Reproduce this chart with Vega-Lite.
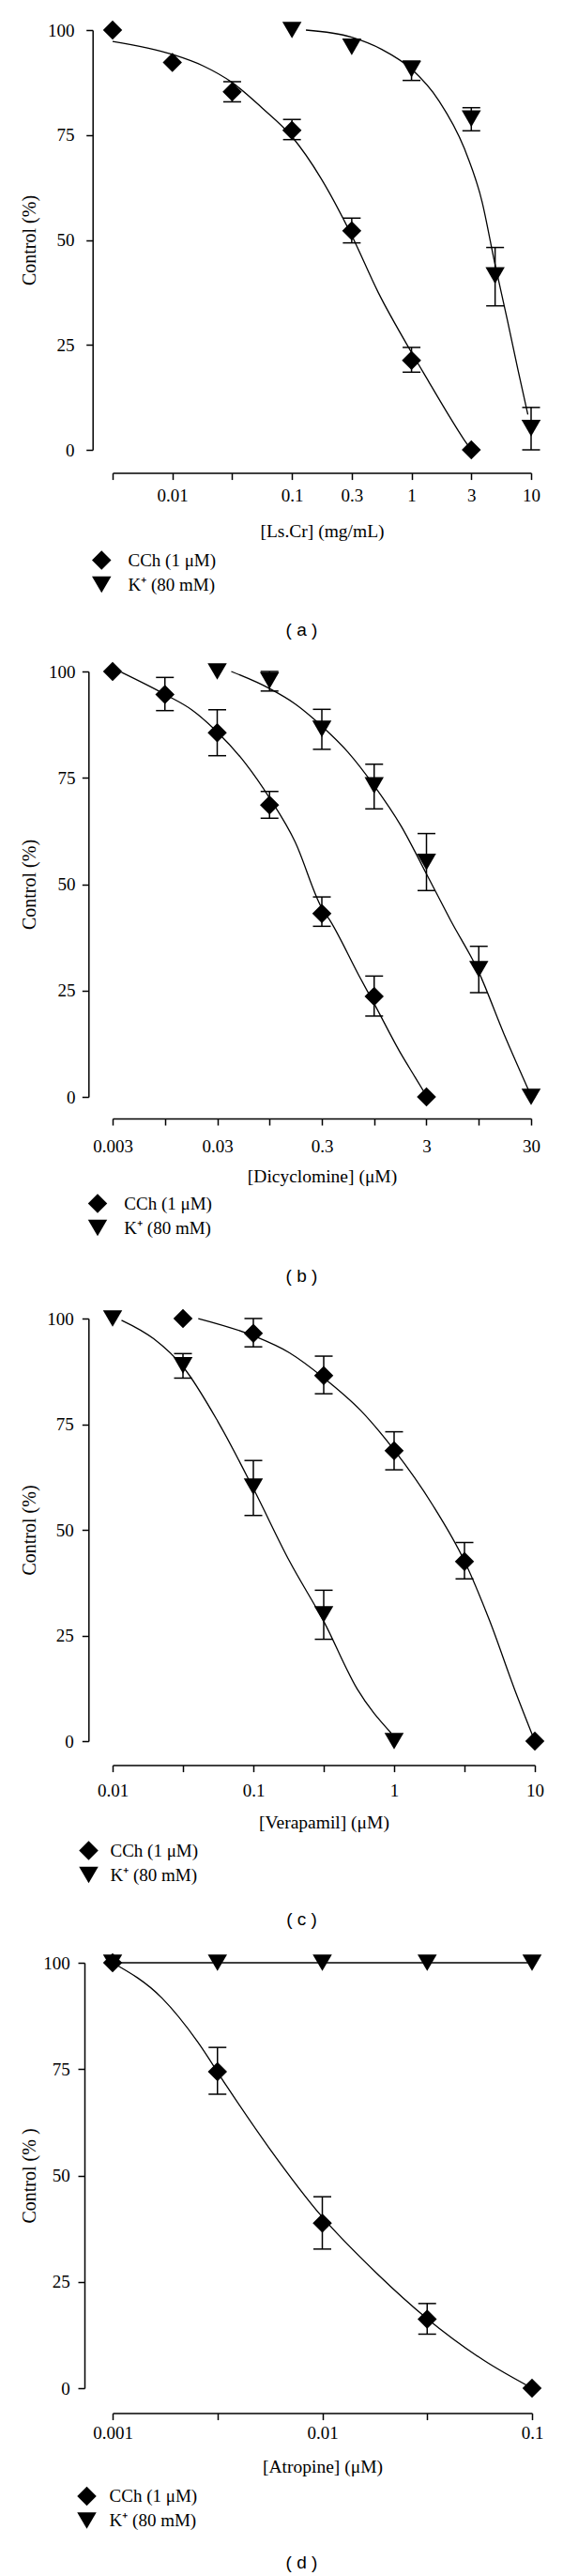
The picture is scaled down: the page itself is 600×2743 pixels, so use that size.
{
  "$schema": "https://vega.github.io/schema/vega-lite/v6.json",
  "padding": {"left": 20, "top": 21, "right": 0, "bottom": 0},
  "background": "white",
  "spacing": 236,
  "bounds": "flush",
  "config": {
    "view": {"stroke": null},
    "font": "Liberation Serif",
    "axis": {"grid": false, "domainColor": "black", "domainWidth": 1.5, "tickColor": "black", "tickWidth": 1.5, "tickSize": 7, "labelFont": "Liberation Serif", "labelFontSize": 19, "labelColor": "black", "titleFont": "Liberation Serif", "titleFontSize": 19.5, "titleFontWeight": "normal", "titleColor": "black", "labelFlush": false, "labelOverlap": false, "labelBound": false},
    "legend": {"orient": "none", "title": null, "labelFont": "Liberation Serif", "labelFontSize": 19, "labelColor": "black", "symbolSize": 420, "symbolFillColor": "black", "symbolStrokeWidth": 0, "rowPadding": 5, "padding": 0},
    "title": {"orient": "bottom", "font": "Liberation Sans", "fontSize": 19, "fontWeight": "normal", "color": "black", "frame": "group", "anchor": "middle"}
  },
  "resolve": {"scale": {"x": "independent", "y": "independent", "shape": "independent"}, "legend": {"shape": "independent"}, "axis": {"x": "independent", "y": "independent"}},
  "datasets": {
    "ptsA": [
      {"agent": "CCh (1 μM)", "conc": 0.0031623, "resp": 100},
      {"agent": "CCh (1 μM)", "conc": 0.01, "resp": 92.3},
      {"agent": "CCh (1 μM)", "conc": 0.031623, "resp": 85.3, "lo": 82.9, "hi": 87.7},
      {"agent": "CCh (1 μM)", "conc": 0.1, "resp": 76.1, "lo": 73.9, "hi": 78.7},
      {"agent": "CCh (1 μM)", "conc": 0.31623, "resp": 52.2, "lo": 49.3, "hi": 55.2},
      {"agent": "CCh (1 μM)", "conc": 1, "resp": 21.3, "lo": 18.5, "hi": 24.4},
      {"agent": "CCh (1 μM)", "conc": 3.1623, "resp": 0},
      {"agent": "K⁺ (80 mM)", "conc": 0.1, "resp": 100},
      {"agent": "K⁺ (80 mM)", "conc": 0.31623, "resp": 96.0},
      {"agent": "K⁺ (80 mM)", "conc": 1, "resp": 90.7, "lo": 88.0, "hi": 92.6},
      {"agent": "K⁺ (80 mM)", "conc": 3.1623, "resp": 78.9, "lo": 76.0, "hi": 81.5},
      {"agent": "K⁺ (80 mM)", "conc": 5, "resp": 41.5, "lo": 34.3, "hi": 48.2},
      {"agent": "K⁺ (80 mM)", "conc": 10, "resp": 5.2, "lo": 0, "hi": 10.1}
    ],
    "curveA": [
      {"agent": "CCh (1 μM)", "conc": 0.0031623, "resp": 97.3},
      {"agent": "CCh (1 μM)", "conc": 0.01, "resp": 94.2},
      {"agent": "CCh (1 μM)", "conc": 0.01797, "resp": 91.5},
      {"agent": "CCh (1 μM)", "conc": 0.031623, "resp": 87.5},
      {"agent": "CCh (1 μM)", "conc": 0.05603, "resp": 81.5},
      {"agent": "CCh (1 μM)", "conc": 0.1, "resp": 74.6},
      {"agent": "CCh (1 μM)", "conc": 0.1748, "resp": 64.7},
      {"agent": "CCh (1 μM)", "conc": 0.3157, "resp": 51.1},
      {"agent": "CCh (1 μM)", "conc": 0.5265, "resp": 37.5},
      {"agent": "CCh (1 μM)", "conc": 1.0, "resp": 23.2},
      {"agent": "CCh (1 μM)", "conc": 1.382, "resp": 16.4},
      {"agent": "CCh (1 μM)", "conc": 1.952, "resp": 9.2},
      {"agent": "CCh (1 μM)", "conc": 2.754, "resp": 2.4},
      {"agent": "CCh (1 μM)", "conc": 3.1623, "resp": 0},
      {"agent": "K⁺ (80 mM)", "conc": 0.1309, "resp": 100},
      {"agent": "K⁺ (80 mM)", "conc": 0.3157, "resp": 98.3},
      {"agent": "K⁺ (80 mM)", "conc": 0.5643, "resp": 95.4},
      {"agent": "K⁺ (80 mM)", "conc": 1.0, "resp": 90.7},
      {"agent": "K⁺ (80 mM)", "conc": 1.7, "resp": 83.1},
      {"agent": "K⁺ (80 mM)", "conc": 2.754, "resp": 71.9},
      {"agent": "K⁺ (80 mM)", "conc": 3.89, "resp": 59.1},
      {"agent": "K⁺ (80 mM)", "conc": 4.949, "resp": 44.7},
      {"agent": "K⁺ (80 mM)", "conc": 6.302, "resp": 31.2},
      {"agent": "K⁺ (80 mM)", "conc": 7.745, "resp": 19.2},
      {"agent": "K⁺ (80 mM)", "conc": 9.397, "resp": 8.4}
    ],
    "ptsB": [
      {"agent": "CCh (1 μM)", "conc": 0.003, "resp": 100},
      {"agent": "CCh (1 μM)", "conc": 0.0094868, "resp": 94.6, "lo": 90.8, "hi": 98.6},
      {"agent": "CCh (1 μM)", "conc": 0.03, "resp": 85.6, "lo": 80.2, "hi": 91.0},
      {"agent": "CCh (1 μM)", "conc": 0.094868, "resp": 68.6, "lo": 65.5, "hi": 71.8},
      {"agent": "CCh (1 μM)", "conc": 0.3, "resp": 43.1, "lo": 40.1, "hi": 47.0},
      {"agent": "CCh (1 μM)", "conc": 0.94868, "resp": 23.6, "lo": 19.0, "hi": 28.4},
      {"agent": "CCh (1 μM)", "conc": 3, "resp": 0},
      {"agent": "K⁺ (80 mM)", "conc": 0.03, "resp": 100},
      {"agent": "K⁺ (80 mM)", "conc": 0.094868, "resp": 97.9, "lo": 95.4, "hi": 100},
      {"agent": "K⁺ (80 mM)", "conc": 0.3, "resp": 86.5, "lo": 81.7, "hi": 91.1},
      {"agent": "K⁺ (80 mM)", "conc": 0.94868, "resp": 73.2, "lo": 67.7, "hi": 78.2},
      {"agent": "K⁺ (80 mM)", "conc": 3, "resp": 55.2, "lo": 48.5, "hi": 61.9},
      {"agent": "K⁺ (80 mM)", "conc": 9.4868, "resp": 30.0, "lo": 24.5, "hi": 35.4},
      {"agent": "K⁺ (80 mM)", "conc": 30, "resp": 0}
    ],
    "curveB": [
      {"agent": "CCh (1 μM)", "conc": 0.003645, "resp": 99.8},
      {"agent": "CCh (1 μM)", "conc": 0.00951, "resp": 94.6},
      {"agent": "CCh (1 μM)", "conc": 0.01732, "resp": 90.9},
      {"agent": "CCh (1 μM)", "conc": 0.02989, "resp": 85.8},
      {"agent": "CCh (1 μM)", "conc": 0.05579, "resp": 78.4},
      {"agent": "CCh (1 μM)", "conc": 0.09475, "resp": 70.3},
      {"agent": "CCh (1 μM)", "conc": 0.1662, "resp": 60.0},
      {"agent": "CCh (1 μM)", "conc": 0.2982, "resp": 44.5},
      {"agent": "CCh (1 μM)", "conc": 0.3623, "resp": 41.3},
      {"agent": "CCh (1 μM)", "conc": 0.6761, "resp": 28.6},
      {"agent": "CCh (1 μM)", "conc": 0.9454, "resp": 22.0},
      {"agent": "CCh (1 μM)", "conc": 1.722, "resp": 10.0},
      {"agent": "CCh (1 μM)", "conc": 2.353, "resp": 4.5},
      {"agent": "CCh (1 μM)", "conc": 2.95, "resp": 0.5},
      {"agent": "K⁺ (80 mM)", "conc": 0.04086, "resp": 100},
      {"agent": "K⁺ (80 mM)", "conc": 0.09475, "resp": 96.0},
      {"agent": "K⁺ (80 mM)", "conc": 0.1662, "resp": 92.4},
      {"agent": "K⁺ (80 mM)", "conc": 0.2982, "resp": 87.2},
      {"agent": "K⁺ (80 mM)", "conc": 0.5348, "resp": 81.0},
      {"agent": "K⁺ (80 mM)", "conc": 0.9454, "resp": 73.2},
      {"agent": "K⁺ (80 mM)", "conc": 1.722, "resp": 63.6},
      {"agent": "K⁺ (80 mM)", "conc": 2.972, "resp": 52.6},
      {"agent": "K⁺ (80 mM)", "conc": 5.13, "resp": 41.4},
      {"agent": "K⁺ (80 mM)", "conc": 9.421, "resp": 29.5},
      {"agent": "K⁺ (80 mM)", "conc": 16.51, "resp": 14.8},
      {"agent": "K⁺ (80 mM)", "conc": 28.49, "resp": 1.5}
    ],
    "ptsC": [
      {"agent": "CCh (1 μM)", "conc": 0.031623, "resp": 100},
      {"agent": "CCh (1 μM)", "conc": 0.1, "resp": 96.5, "lo": 93.3, "hi": 100},
      {"agent": "CCh (1 μM)", "conc": 0.31623, "resp": 86.5, "lo": 82.2, "hi": 91.1},
      {"agent": "CCh (1 μM)", "conc": 1, "resp": 68.7, "lo": 64.2, "hi": 73.2},
      {"agent": "CCh (1 μM)", "conc": 3.1623, "resp": 42.5, "lo": 38.4, "hi": 47.0},
      {"agent": "CCh (1 μM)", "conc": 10, "resp": 0},
      {"agent": "K⁺ (80 mM)", "conc": 0.01, "resp": 100},
      {"agent": "K⁺ (80 mM)", "conc": 0.031623, "resp": 88.9, "lo": 85.9, "hi": 91.7},
      {"agent": "K⁺ (80 mM)", "conc": 0.1, "resp": 60.2, "lo": 53.4, "hi": 66.4},
      {"agent": "K⁺ (80 mM)", "conc": 0.31623, "resp": 30.0, "lo": 24.1, "hi": 35.7},
      {"agent": "K⁺ (80 mM)", "conc": 1, "resp": 0}
    ],
    "curveC": [
      {"agent": "CCh (1 μM)", "conc": 0.04064, "resp": 100},
      {"agent": "CCh (1 μM)", "conc": 0.1006, "resp": 95.9},
      {"agent": "CCh (1 μM)", "conc": 0.1805, "resp": 91.9},
      {"agent": "CCh (1 μM)", "conc": 0.318, "resp": 85.9},
      {"agent": "CCh (1 μM)", "conc": 0.5808, "resp": 78.2},
      {"agent": "CCh (1 μM)", "conc": 1.0, "resp": 68.9},
      {"agent": "CCh (1 μM)", "conc": 1.868, "resp": 56.0},
      {"agent": "CCh (1 μM)", "conc": 3.162, "resp": 42.6},
      {"agent": "CCh (1 μM)", "conc": 4.759, "resp": 28.6},
      {"agent": "CCh (1 μM)", "conc": 7.17, "resp": 12.3},
      {"agent": "CCh (1 μM)", "conc": 10, "resp": 0},
      {"agent": "K⁺ (80 mM)", "conc": 0.01157, "resp": 99.6},
      {"agent": "K⁺ (80 mM)", "conc": 0.01959, "resp": 95.2},
      {"agent": "K⁺ (80 mM)", "conc": 0.0318, "resp": 88.5},
      {"agent": "K⁺ (80 mM)", "conc": 0.05603, "resp": 75.6},
      {"agent": "K⁺ (80 mM)", "conc": 0.1006, "resp": 59.6},
      {"agent": "K⁺ (80 mM)", "conc": 0.1805, "resp": 42.6},
      {"agent": "K⁺ (80 mM)", "conc": 0.318, "resp": 28.2},
      {"agent": "K⁺ (80 mM)", "conc": 0.5476, "resp": 12.3},
      {"agent": "K⁺ (80 mM)", "conc": 0.9539, "resp": 1.9}
    ],
    "ptsD": [
      {"agent": "CCh (1 μM)", "conc": 0.001, "resp": 100},
      {"agent": "CCh (1 μM)", "conc": 0.0031623, "resp": 74.4, "lo": 69.1, "hi": 80.1},
      {"agent": "CCh (1 μM)", "conc": 0.01, "resp": 38.8, "lo": 32.7, "hi": 45.0},
      {"agent": "CCh (1 μM)", "conc": 0.031623, "resp": 16.2, "lo": 12.7, "hi": 19.9},
      {"agent": "CCh (1 μM)", "conc": 0.1, "resp": 0},
      {"agent": "K⁺ (80 mM)", "conc": 0.001, "resp": 100},
      {"agent": "K⁺ (80 mM)", "conc": 0.0031623, "resp": 100},
      {"agent": "K⁺ (80 mM)", "conc": 0.01, "resp": 100},
      {"agent": "K⁺ (80 mM)", "conc": 0.031623, "resp": 100},
      {"agent": "K⁺ (80 mM)", "conc": 0.1, "resp": 100}
    ],
    "curveD": [
      {"agent": "CCh (1 μM)", "conc": 0.001, "resp": 100},
      {"agent": "CCh (1 μM)", "conc": 0.00172, "resp": 91.7},
      {"agent": "CCh (1 μM)", "conc": 0.002547, "resp": 81.4},
      {"agent": "CCh (1 μM)", "conc": 0.003488, "resp": 71.1},
      {"agent": "CCh (1 μM)", "conc": 0.00559, "resp": 56.4},
      {"agent": "CCh (1 μM)", "conc": 0.009966, "resp": 40.3},
      {"agent": "CCh (1 μM)", "conc": 0.01818, "resp": 27.0},
      {"agent": "CCh (1 μM)", "conc": 0.03151, "resp": 16.4},
      {"agent": "CCh (1 μM)", "conc": 0.05908, "resp": 6.5},
      {"agent": "CCh (1 μM)", "conc": 0.1, "resp": 0},
      {"agent": "K⁺ (80 mM)", "conc": 0.001, "resp": 100},
      {"agent": "K⁺ (80 mM)", "conc": 0.1, "resp": 100}
    ]
  },
  "vconcat": [
    {
      "width": 446, "height": 447,
      "title": {"text": "( a )", "offset": 29, "dx": -21.5},
      "layer": [
        {"data": {"name": "curveA"},
         "mark": {"type": "line", "color": "black", "strokeWidth": 1.3, "interpolate": "monotone"},
         "encoding": {
           "x": {"field": "conc", "type": "quantitative", "scale": {"type": "log", "domain": [0.0031623, 10], "nice": false},
                 "axis": {"values": [0.0031623, 0.01, 0.031623, 0.1, 0.31623, 1, 3.1623, 10], "labelExpr": "datum.value < 0.005 ? '' : datum.value < 0.02 ? '0.01' : datum.value < 0.05 ? '' : datum.value < 0.2 ? '0.1' : datum.value < 0.5 ? '0.3' : datum.value < 2 ? '1' : datum.value < 5 ? '3' : '10'", "offset": 24.6, "labelPadding": 7.7, "title": "[Ls.Cr] (mg/mL)", "titleY": 61.7, "titleBaseline": "middle"}},
           "y": {"field": "resp", "type": "quantitative", "scale": {"domain": [0, 100], "nice": false},
                 "axis": {"values": [0, 25, 50, 75, 100], "offset": 21.3, "labelPadding": 12.7, "title": "Control (%)", "titleX": -67.7, "titleBaseline": "middle", "titleFontSize": 20}},
           "detail": {"field": "agent"}}},
        {"data": {"name": "ptsA"}, "mark": {"type": "rule", "color": "black", "strokeWidth": 1.5},
         "encoding": {"x": {"field": "conc", "type": "quantitative"}, "y": {"field": "lo", "type": "quantitative"}, "y2": {"field": "hi"}}},
        {"data": {"name": "ptsA"}, "mark": {"type": "tick", "orient": "horizontal", "size": 19, "thickness": 1.5, "color": "black", "opacity": 1},
         "encoding": {"x": {"field": "conc", "type": "quantitative"}, "y": {"field": "lo", "type": "quantitative"}}},
        {"data": {"name": "ptsA"}, "mark": {"type": "tick", "orient": "horizontal", "size": 19, "thickness": 1.5, "color": "black", "opacity": 1},
         "encoding": {"x": {"field": "conc", "type": "quantitative"}, "y": {"field": "hi", "type": "quantitative"}}},
        {"data": {"name": "ptsA"}, "mark": {"type": "point", "filled": true, "size": 420, "color": "black", "opacity": 1},
         "encoding": {"x": {"field": "conc", "type": "quantitative"}, "y": {"field": "resp", "type": "quantitative"},
           "shape": {"field": "agent", "type": "nominal", "scale": {"domain": ["CCh (1 μM)", "K⁺ (80 mM)"], "range": ["diamond", "triangle-down"]},
                     "legend": {"legendX": -22.25, "legendY": 554, "labelOffset": 17.75}}}}
      ]
    },
    {
      "width": 446, "height": 453,
      "title": {"text": "( b )", "offset": 32, "dx": -21.5},
      "layer": [
        {"data": {"name": "curveB"},
         "mark": {"type": "line", "color": "black", "strokeWidth": 1.3, "interpolate": "monotone"},
         "encoding": {
           "x": {"field": "conc", "type": "quantitative", "scale": {"type": "log", "domain": [0.003, 30], "nice": false},
                 "axis": {"values": [0.003, 0.0094868, 0.03, 0.094868, 0.3, 0.94868, 3, 9.4868, 30], "labelExpr": "datum.value < 0.005 ? '0.003' : datum.value < 0.02 ? '' : datum.value < 0.05 ? '0.03' : datum.value < 0.2 ? '' : datum.value < 0.5 ? '0.3' : datum.value < 2 ? '' : datum.value < 5 ? '3' : datum.value < 20 ? '' : '30'", "offset": 23, "labelPadding": 13.3, "title": "[Dicyclomine] (μM)", "titleY": 61, "titleBaseline": "middle"}},
           "y": {"field": "resp", "type": "quantitative", "scale": {"domain": [0, 100], "nice": false},
                 "axis": {"values": [0, 25, 50, 75, 100], "offset": 25.7, "labelPadding": 7.3, "title": "Control (%)", "titleX": -63.3, "titleBaseline": "middle", "titleFontSize": 20}},
           "detail": {"field": "agent"}}},
        {"data": {"name": "ptsB"}, "mark": {"type": "rule", "color": "black", "strokeWidth": 1.5},
         "encoding": {"x": {"field": "conc", "type": "quantitative"}, "y": {"field": "lo", "type": "quantitative"}, "y2": {"field": "hi"}}},
        {"data": {"name": "ptsB"}, "mark": {"type": "tick", "orient": "horizontal", "size": 19, "thickness": 1.5, "color": "black", "opacity": 1},
         "encoding": {"x": {"field": "conc", "type": "quantitative"}, "y": {"field": "lo", "type": "quantitative"}}},
        {"data": {"name": "ptsB"}, "mark": {"type": "tick", "orient": "horizontal", "size": 19, "thickness": 1.5, "color": "black", "opacity": 1},
         "encoding": {"x": {"field": "conc", "type": "quantitative"}, "y": {"field": "hi", "type": "quantitative"}}},
        {"data": {"name": "ptsB"}, "mark": {"type": "point", "filled": true, "size": 420, "color": "black", "opacity": 1},
         "encoding": {"x": {"field": "conc", "type": "quantitative"}, "y": {"field": "resp", "type": "quantitative"},
           "shape": {"field": "agent", "type": "nominal", "scale": {"domain": ["CCh (1 μM)", "K⁺ (80 mM)"], "range": ["diamond", "triangle-down"]},
                     "legend": {"legendX": -26.5, "legendY": 556, "labelOffset": 17.85}}}}
      ]
    },
    {
      "width": 450, "height": 450,
      "title": {"text": "( c )", "offset": 28, "dx": -23.5},
      "layer": [
        {"data": {"name": "curveC"},
         "mark": {"type": "line", "color": "black", "strokeWidth": 1.3, "interpolate": "monotone"},
         "encoding": {
           "x": {"field": "conc", "type": "quantitative", "scale": {"type": "log", "domain": [0.01, 10], "nice": false},
                 "axis": {"values": [0.01, 0.031623, 0.1, 0.31623, 1, 3.1623, 10], "labelExpr": "datum.value < 0.02 ? '0.01' : datum.value < 0.05 ? '' : datum.value < 0.2 ? '0.1' : datum.value < 0.5 ? '' : datum.value < 2 ? '1' : datum.value < 5 ? '' : '10'", "offset": 25.6, "labelPadding": 11, "title": "[Verapamil] (μM)", "titleY": 60.7, "titleBaseline": "middle"}},
           "y": {"field": "resp", "type": "quantitative", "scale": {"domain": [0, 100], "nice": false},
                 "axis": {"values": [0, 25, 50, 75, 100], "offset": 25.7, "labelPadding": 9, "title": "Control (%)", "titleX": -63.3, "titleBaseline": "middle", "titleFontSize": 20}},
           "detail": {"field": "agent"}}},
        {"data": {"name": "ptsC"}, "mark": {"type": "rule", "color": "black", "strokeWidth": 1.5},
         "encoding": {"x": {"field": "conc", "type": "quantitative"}, "y": {"field": "lo", "type": "quantitative"}, "y2": {"field": "hi"}}},
        {"data": {"name": "ptsC"}, "mark": {"type": "tick", "orient": "horizontal", "size": 19, "thickness": 1.5, "color": "black", "opacity": 1},
         "encoding": {"x": {"field": "conc", "type": "quantitative"}, "y": {"field": "lo", "type": "quantitative"}}},
        {"data": {"name": "ptsC"}, "mark": {"type": "tick", "orient": "horizontal", "size": 19, "thickness": 1.5, "color": "black", "opacity": 1},
         "encoding": {"x": {"field": "conc", "type": "quantitative"}, "y": {"field": "hi", "type": "quantitative"}}},
        {"data": {"name": "ptsC"}, "mark": {"type": "point", "filled": true, "size": 420, "color": "black", "opacity": 1},
         "encoding": {"x": {"field": "conc", "type": "quantitative"}, "y": {"field": "resp", "type": "quantitative"},
           "shape": {"field": "agent", "type": "nominal", "scale": {"domain": ["CCh (1 μM)", "K⁺ (80 mM)"], "range": ["diamond", "triangle-down"]},
                     "legend": {"legendX": -36, "legendY": 556, "labelOffset": 12.5}}}}
      ]
    },
    {
      "width": 447, "height": 453,
      "title": {"text": "( d )", "offset": 25, "dx": -22},
      "layer": [
        {"data": {"name": "curveD"},
         "mark": {"type": "line", "color": "black", "strokeWidth": 1.3, "interpolate": "monotone"},
         "encoding": {
           "x": {"field": "conc", "type": "quantitative", "scale": {"type": "log", "domain": [0.001, 0.1], "nice": false},
                 "axis": {"values": [0.001, 0.0031623, 0.01, 0.031623, 0.1], "labelExpr": "datum.value < 0.002 ? '0.001' : datum.value < 0.005 ? '' : datum.value < 0.02 ? '0.01' : datum.value < 0.05 ? '' : '0.1'", "offset": 26.6, "labelPadding": 5, "title": "[Atropine] (μM)", "titleY": 57.2, "titleBaseline": "middle"}},
           "y": {"field": "resp", "type": "quantitative", "scale": {"domain": [0, 100], "nice": false},
                 "axis": {"values": [0, 25, 50, 75, 100], "offset": 30, "labelPadding": 8.7, "title": "Control (% )", "titleX": -59, "titleBaseline": "middle", "titleFontSize": 20}},
           "detail": {"field": "agent"}}},
        {"data": {"name": "ptsD"}, "mark": {"type": "rule", "color": "black", "strokeWidth": 1.5},
         "encoding": {"x": {"field": "conc", "type": "quantitative"}, "y": {"field": "lo", "type": "quantitative"}, "y2": {"field": "hi"}}},
        {"data": {"name": "ptsD"}, "mark": {"type": "tick", "orient": "horizontal", "size": 19, "thickness": 1.5, "color": "black", "opacity": 1},
         "encoding": {"x": {"field": "conc", "type": "quantitative"}, "y": {"field": "lo", "type": "quantitative"}}},
        {"data": {"name": "ptsD"}, "mark": {"type": "tick", "orient": "horizontal", "size": 19, "thickness": 1.5, "color": "black", "opacity": 1},
         "encoding": {"x": {"field": "conc", "type": "quantitative"}, "y": {"field": "hi", "type": "quantitative"}}},
        {"data": {"name": "ptsD"}, "mark": {"type": "point", "filled": true, "size": 420, "color": "black", "opacity": 1},
         "encoding": {"x": {"field": "conc", "type": "quantitative"}, "y": {"field": "resp", "type": "quantitative"},
           "shape": {"field": "agent", "type": "nominal", "scale": {"domain": ["CCh (1 μM)", "K⁺ (80 mM)"], "range": ["diamond", "triangle-down"]},
                     "legend": {"legendX": -38, "legendY": 557.5, "labelOffset": 13.6}}}}
      ]
    }
  ]
}
